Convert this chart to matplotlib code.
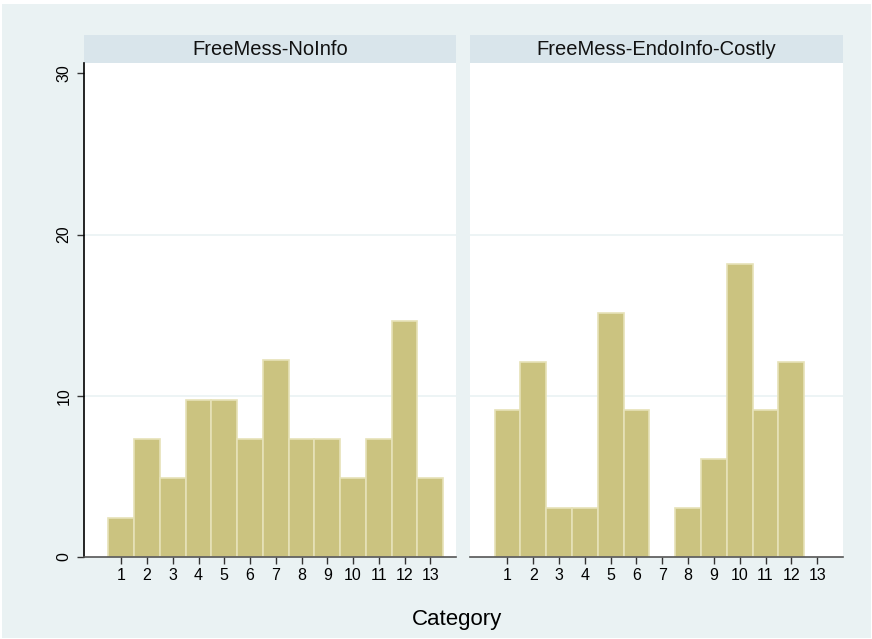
import numpy as np
import matplotlib.pyplot as plt
from matplotlib.patches import Rectangle

plt.rcParams['font.family'] = ['Liberation Sans', 'DejaVu Sans']

# percent of subjects by category, one list per treatment
categories = list(range(1, 14))
panel_titles = ["FreeMess-NoInfo", "FreeMess-EndoInfo-Costly"]
pct_noinfo = [2.44, 7.32, 4.88, 9.76, 9.76, 7.32, 12.20, 7.32, 7.32, 4.88, 7.32, 14.63, 4.88]
pct_endo = [9.09, 12.12, 3.03, 3.03, 15.15, 9.09, 0.0, 3.03, 6.06, 18.18, 9.09, 12.12, 0.0]
yticks = [0, 10, 20, 30]

bg = "#EAF2F3"
strip = "#D9E5EB"
bar_fill = "#CBC380"
bar_edge = "#E6E2B8"

W, H = 872, 639
fig = plt.figure(figsize=(W / 100, H / 100), dpi=100)
fig.patch.set_facecolor("white")
fig.patches.append(Rectangle((2 / W, 1 / H), 869 / W, 634 / H, transform=fig.transFigure,
                             facecolor=bg, edgecolor="none", zorder=-10))

ax_bottom = 1 - 557 / H
ax_height = (557 - 63) / H
strip_h = (63 - 35) / H
lefts = [84, 470]
widths = [372, 373]

for k, (vals, title) in enumerate(zip([pct_noinfo, pct_endo], panel_titles)):
    ax = fig.add_axes([lefts[k] / W, ax_bottom, widths[k] / W, ax_height])
    ax.set_facecolor("white")
    # empty categories get no outline
    lw = [1.2 if v > 0 else 0 for v in vals]
    ax.bar(categories, vals, width=1.0, color=bar_fill, edgecolor=bar_edge, linewidth=lw, zorder=3)
    ax.set_xlim(-0.45, 14.0)
    ax.set_ylim(0, 30.65)
    for yv in yticks[1:3]:
        ax.axhline(yv, color=bg, lw=1.2, zorder=1)
    ax.set_xticks(categories)
    ax.set_xticklabels([str(c) for c in categories], fontsize=11.5)
    ax.tick_params(axis='x', length=5, width=1, color="#333333", pad=3)
    for side in ["top", "right"]:
        ax.spines[side].set_visible(False)
    ax.spines["bottom"].set_color("#555555")
    ax.spines["bottom"].set_linewidth(1.2)
    ax.spines["bottom"].set_zorder(4)
    if k == 0:
        ax.set_yticks(yticks)
        ax.set_yticklabels([str(v) for v in yticks], rotation=90, va="center", fontsize=11.5)
        ax.tick_params(axis='y', length=5, width=1, color="#333333", pad=4)
        ax.spines["left"].set_color("black")
        ax.spines["left"].set_linewidth(1.2)
    else:
        ax.spines["left"].set_visible(False)
        ax.tick_params(axis='y', left=False, labelleft=False)

    # panel header strip
    x0 = lefts[k] / W
    y0 = ax_bottom + ax_height
    fig.patches.append(Rectangle((x0, y0), widths[k] / W, strip_h, transform=fig.transFigure,
                                 facecolor=strip, edgecolor="none", zorder=-5))
    fig.text(x0 + widths[k] / W / 2, y0 + strip_h / 2, title, ha="center", va="center",
             fontsize=14.5, color="#111111")

fig.text(457 / W, 1 - 620 / H, "Category", ha="center", va="center", fontsize=16)

fig.savefig("out.png", dpi=100, facecolor=fig.get_facecolor())
